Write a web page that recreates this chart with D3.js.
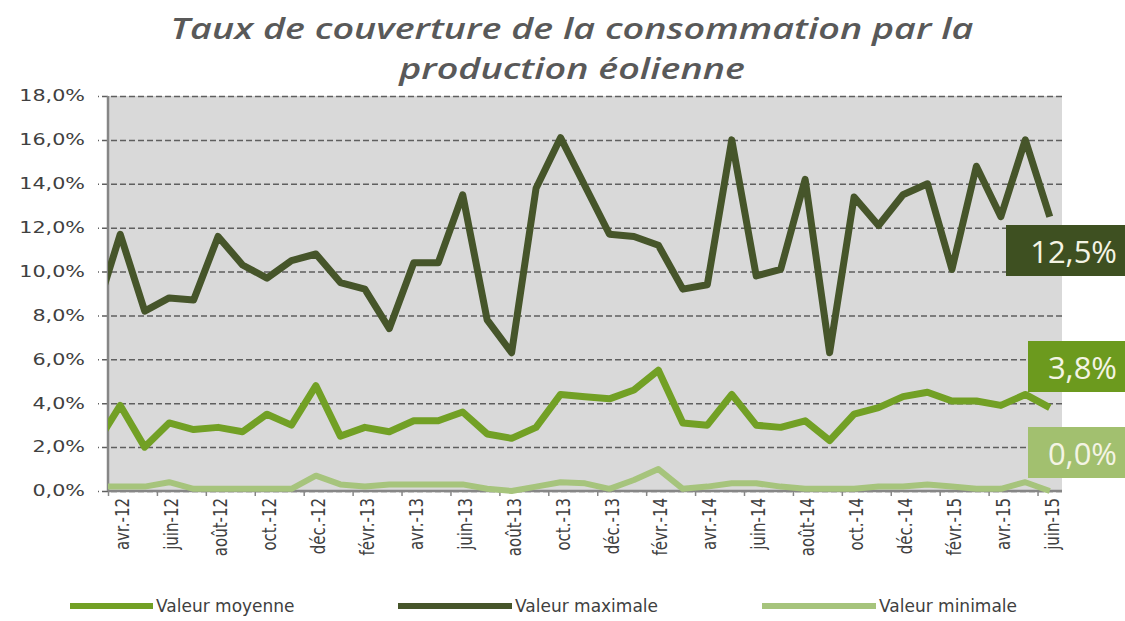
<!DOCTYPE html>
<html>
<head>
<meta charset="utf-8">
<script src="https://cdn.jsdelivr.net/npm/d3@7/dist/d3.min.js"></script>
<style>
body { margin: 0; background: #fff; }
</style>
</head>
<body>
<svg></svg>
<script>
// Monthly data, mars-12 (clipped by plot edge) to juin-15
const months = ["mars-12","avr.-12","mai-12","juin-12","juil.-12","août-12","sept.-12","oct.-12","nov.-12","déc.-12",
	"janv.-13","févr.-13","mars-13","avr.-13","mai-13","juin-13","juil.-13","août-13","sept.-13","oct.-13","nov.-13","déc.-13",
	"janv.-14","févr.-14","mars-14","avr.-14","mai-14","juin-14","juil.-14","août-14","sept.-14","oct.-14","nov.-14","déc.-14",
	"janv.-15","févr.-15","mars-15","avr.-15","mai-15","juin-15"];

const maxValues = [8.1, 11.7, 8.2, 8.8, 8.7, 11.6, 10.3, 9.7, 10.5, 10.8,
	9.5, 9.2, 7.4, 10.4, 10.4, 13.5, 7.8, 6.3, 13.8, 16.1, 13.9, 11.7,
	11.6, 11.2, 9.2, 9.4, 16.0, 9.8, 10.1, 14.2, 6.3, 13.4, 12.1, 13.5,
	14.0, 10.1, 14.8, 12.5, 16.0, 12.5];

const meanValues = [2.1, 3.9, 2.0, 3.1, 2.8, 2.9, 2.7, 3.5, 3.0, 4.8,
	2.5, 2.9, 2.7, 3.2, 3.2, 3.6, 2.6, 2.4, 2.9, 4.4, 4.3, 4.2,
	4.6, 5.5, 3.1, 3.0, 4.4, 3.0, 2.9, 3.2, 2.3, 3.5, 3.8, 4.3,
	4.5, 4.1, 4.1, 3.9, 4.4, 3.8];

const minValues = [0.2, 0.2, 0.2, 0.4, 0.1, 0.1, 0.1, 0.1, 0.1, 0.7,
	0.3, 0.2, 0.3, 0.3, 0.3, 0.3, 0.1, 0.0, 0.2, 0.4, 0.35, 0.1,
	0.5, 1.0, 0.1, 0.2, 0.35, 0.35, 0.2, 0.1, 0.1, 0.1, 0.2, 0.2,
	0.3, 0.2, 0.1, 0.1, 0.4, 0.0];

const yTicks = [0, 2, 4, 6, 8, 10, 12, 14, 16, 18];
const tickLabels = ["avr.-12","juin-12","août-12","oct.-12","déc.-12","févr.-13","avr.-13","juin-13","août-13",
	"oct.-13","déc.-13","févr.-14","avr.-14","juin-14","août-14","oct.-14","déc.-14","févr.-15","avr.-15","juin-15"];

const titleLines = ["Taux de couverture de la consommation par la", "production éolienne"];

const series = [
	{name: "Valeur moyenne", values: meanValues, color: "#72a025", box: "#6c9a1e", width: 7},
	{name: "Valeur maximale", values: maxValues, color: "#46552a", box: "#3e5021", width: 7},
	{name: "Valeur minimale", values: minValues, color: "#a6c47c", box: "#a2c06f", width: 6}
];

const svgWidth = 1125;
const svgHeight = 621;
const plot = {left: 108, right: 1062, top: 96, bottom: 491};
const stretch = 1.3; // the source picture is widened horizontally

const svg = d3.select('svg')
	.attr('width', svgWidth)
	.attr('height', svgHeight);

const scaleX = d3.scaleLinear()
	.domain([0.5, months.length - 0.5])
	.range([plot.left, plot.right]);

const scaleY = d3.scaleLinear()
	.domain([0, 18])
	.range([plot.bottom, plot.top]);

const fmt = v => d3.format(".1f")(v).replace(".", ",") + "%";

// Title
svg.append("g")
	.attr("transform", `translate(572, 0) scale(${stretch}, 1)`)
	.selectAll("text")
	.data(titleLines)
	.join("text")
	.attr("x", 0)
	.attr("y", (d, i) => 39 + i * 40)
	.attr("text-anchor", "middle")
	.attr("font-family", "Open Sans")
	.attr("font-style", "italic")
	.attr("font-weight", 600)
	.attr("font-size", 29)
	.attr("fill", "#595959")
	.text(d => d);

// Plot background
svg.append("rect")
	.attr("x", plot.left)
	.attr("y", plot.top)
	.attr("width", plot.right - plot.left)
	.attr("height", plot.bottom - plot.top)
	.attr("fill", "#d9d9d9");

// Y axis with dashed gridlines
svg.append("g")
	.attr("transform", `translate(${plot.right}, 0)`)
	.call(d3.axisLeft(scaleY)
		.tickValues(yTicks)
		.tickSize(plot.right - plot.left + 10)
		.tickFormat(""))
	.call(g => g.select(".domain").remove())
	.call(g => g.selectAll(".tick line")
		.attr("stroke", "#5f5f5f")
		.attr("stroke-width", 1.5)
		.attr("stroke-dasharray", "6,3"));

svg.append("g")
	.attr("transform", `translate(${plot.left - 23}, 0)`)
	.call(d3.axisLeft(scaleY)
		.tickValues(yTicks)
		.tickSize(0)
		.tickPadding(0)
		.tickFormat(d => fmt(d)))
	.call(g => g.select(".domain").remove())
	.call(g => g.selectAll("text")
		.attr("x", 0)
		.attr("transform", "scale(1.38, 1)")
		.attr("font-family", "DejaVu Sans")
		.attr("font-size", 15)
		.attr("fill", "#404040"));

// Axis lines
svg.append("line")
	.attr("x1", plot.left).attr("x2", plot.left)
	.attr("y1", plot.top).attr("y2", plot.bottom)
	.attr("stroke", "#868686").attr("stroke-width", 2.5);

// X axis: tick marks every two months
svg.append("g")
	.attr("transform", `translate(0, ${plot.bottom})`)
	.call(d3.axisBottom(scaleX)
		.tickValues(d3.range(0.5, months.length - 1, 2))
		.tickSize(5)
		.tickFormat(""))
	.call(g => g.select(".domain")
		.attr("d", `M${plot.left},0H${plot.right}`)
		.attr("stroke", "#868686")
		.attr("stroke-width", 2.5))
	.call(g => g.selectAll(".tick line")
		.attr("stroke", "#868686")
		.attr("stroke-width", 1.5));

// X axis labels, rotated
svg.append("g")
	.attr("transform", `translate(2, ${plot.bottom + 7})`)
	.call(d3.axisBottom(scaleX)
		.tickValues(tickLabels.map(l => months.indexOf(l)))
		.tickSize(0)
		.tickFormat(i => months[i]))
	.call(g => g.select(".domain").remove())
	.call(g => g.selectAll("text")
		.attr("font-family", "DejaVu Sans")
		.attr("font-size", 15)
		.attr("fill", "#404040")
		.attr("text-anchor", "end")
		.attr("dy", "0.35em")
		.attr("y", 0)
		.attr("transform", "rotate(-90) scale(1, 1.25)"));

// Lines, clipped to plot width
svg.append("clipPath")
	.attr("id", "plot-clip")
	.append("rect")
	.attr("x", plot.left)
	.attr("y", 0)
	.attr("width", plot.right - plot.left)
	.attr("height", svgHeight);

const line = d3.line()
	.x((d, i) => scaleX(i))
	.y(d => scaleY(d));

const drawOrder = [series[2], series[0], series[1]];
svg.append("g")
	.attr("clip-path", "url(#plot-clip)")
	.selectAll("path")
	.data(drawOrder)
	.join("path")
	.attr("fill", "none")
	.attr("stroke", d => d.color)
	.attr("stroke-width", d => d.width)
	.attr("stroke-linejoin", "round")
	.attr("d", d => line(d.values));

// Last-value labels
const endBoxes = [
	{s: series[1], x: 1006, y: 225},
	{s: series[0], x: 1028, y: 341},
	{s: series[2], x: 1028, y: 427}
];
const boxes = svg.append("g").selectAll("g")
	.data(endBoxes)
	.join("g")
	.attr("transform", d => `translate(${d.x}, ${d.y})`);

boxes.append("rect")
	.attr("width", d => svgWidth - d.x)
	.attr("height", 51)
	.attr("fill", d => d.s.box);

boxes.append("text")
	.attr("x", d => svgWidth - d.x - 8)
	.attr("y", 38)
	.attr("text-anchor", "end")
	.attr("font-family", "Open Sans")
	.attr("font-size", 31)
	.attr("fill", "#f4f4e4")
	.text(d => fmt(d.s.values[d.s.values.length - 1]));

// Legend
const legendX = [70, 398, 762];
const legendW = [83, 114, 114];
const legend = svg.append("g").selectAll("g")
	.data(series)
	.join("g")
	.attr("transform", (d, i) => `translate(${legendX[i]}, 606)`);

legend.append("line")
	.attr("x1", 0)
	.attr("x2", (d, i) => legendW[i])
	.attr("stroke", d => d.color)
	.attr("stroke-width", 6);

legend.append("text")
	.attr("x", (d, i) => legendW[i] + 3)
	.attr("dy", "0.35em")
	.attr("font-family", "DejaVu Sans")
	.attr("font-size", 17)
	.attr("fill", "#404040")
	.text(d => d.name);
</script>
</body>
</html>
